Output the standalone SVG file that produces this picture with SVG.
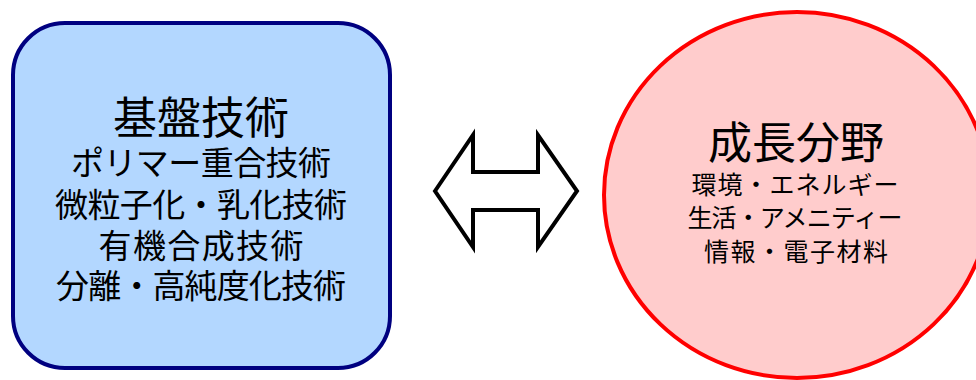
<svg xmlns="http://www.w3.org/2000/svg" width="976" height="380" viewBox="0 0 976 380">
<style>
text{font-family:"Noto Sans CJK JP","Noto Sans CJK SC",sans-serif;fill:#000;text-anchor:middle}
.t{font-size:44px}
.l{font-size:33px}
.s{font-size:25px}
</style>
<rect width="976" height="380" fill="#fff"/>
<g id="base">
<rect x="13" y="23" width="377" height="345" rx="52" ry="52" fill="#b3d7ff" stroke="#000080" stroke-width="4"/>
<text class="t" x="201" y="134">基盤技術</text>
<text class="l" x="201" y="175" textLength="260" lengthAdjust="spacing">ポリマー重合技術</text>
<text class="l" x="201" y="217" textLength="292" lengthAdjust="spacing">微粒子化・乳化技術</text>
<text class="l" x="201" y="258" textLength="205" lengthAdjust="spacing">有機合成技術</text>
<text class="l" x="201" y="298" textLength="290" lengthAdjust="spacing">分離・高純度化技術</text>
</g>
<g id="connectors">
<polygon points="435,191 473,135 473,172 538,172 538,135 577,191 538,247 538,210 473,210 473,247" fill="#fff" stroke="#000" stroke-width="4" stroke-linejoin="miter"/>
</g>
<g id="growth">
<ellipse cx="797" cy="195" rx="193" ry="183" fill="#ffcccc" stroke="#ff0000" stroke-width="4"/>
<text class="t" x="796" y="159">成長分野</text>
<text class="s" x="795" y="194" textLength="207" lengthAdjust="spacing">環境・エネルギー</text>
<text class="s" x="795" y="227" textLength="215" lengthAdjust="spacing">生活・アメニティー</text>
<text class="s" x="796" y="261" textLength="184" lengthAdjust="spacing">情報・電子材料</text>
</g>
</svg>
